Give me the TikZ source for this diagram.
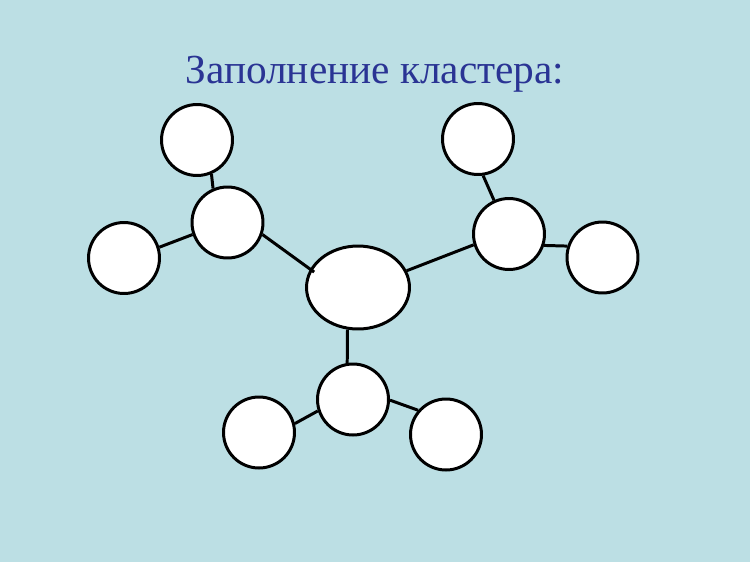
\documentclass[tikz,border=0pt]{standalone}
\usepackage{fontspec}
\setmainfont{Liberation Serif}
\usetikzlibrary{shapes.geometric}
\definecolor{slidebg}{RGB}{188,223,228}
\definecolor{titleblue}{RGB}{42,52,148}
\tikzset{
    blob/.style={circle, draw=black, fill=white, line width=1.7pt,
        minimum size=1.42cm, inner sep=0pt},
    core/.style={ellipse, draw=black, fill=white, line width=1.7pt,
        minimum width=2.06cm, minimum height=1.66cm, inner sep=0pt},
    link/.style={line width=1.7pt}
}
\begin{document}
\begin{tikzpicture}[x=0.02cm, y=-0.02cm]
        \fill[slidebg] (0, 0) rectangle (750, 562);
        \useasboundingbox (0, 0) rectangle (750, 562);
        \node[anchor=base, text=titleblue, font=\fontsize{23.5}{28}\selectfont]
            (title) at (375, 83) {Заполнение кластера:};
        % centre
        \node[core] (ctr) at (358, 287.5) {};
        % left group
        \node[blob] (lh) at (227.5, 222.5) {};
        \node[blob] (lt) at (197, 140) {};
        \node[blob] (ll) at (124, 258) {};
        % right group
        \node[blob] (rh) at (509, 234) {};
        \node[blob] (rt) at (478, 139) {};
        \node[blob] (rr) at (602.5, 257.5) {};
        % bottom group
        \node[blob] (bh) at (353, 399.5) {};
        \node[blob] (bl) at (259, 432.5) {};
        \node[blob] (br) at (446, 434.5) {};
        \draw[link] (lt.293) -- (lh.113);
        \draw[link] (ll.17) -- (lh.199);
        \draw[link, shorten >=-0.1cm] (lh.341) -- (ctr.159);
        \draw[link] (rt.278) -- (rh.114);
        \draw[link] (rh.342) -- (rr.162);
        \draw[link] (rh.197) -- (ctr.19);
        \draw[link] (ctr.256) -- (bh.99);
        \draw[link] (bh.198) -- (bl.14);
        \draw[link] (bh.359) -- (br.139);
    \end{tikzpicture}
\end{document}
